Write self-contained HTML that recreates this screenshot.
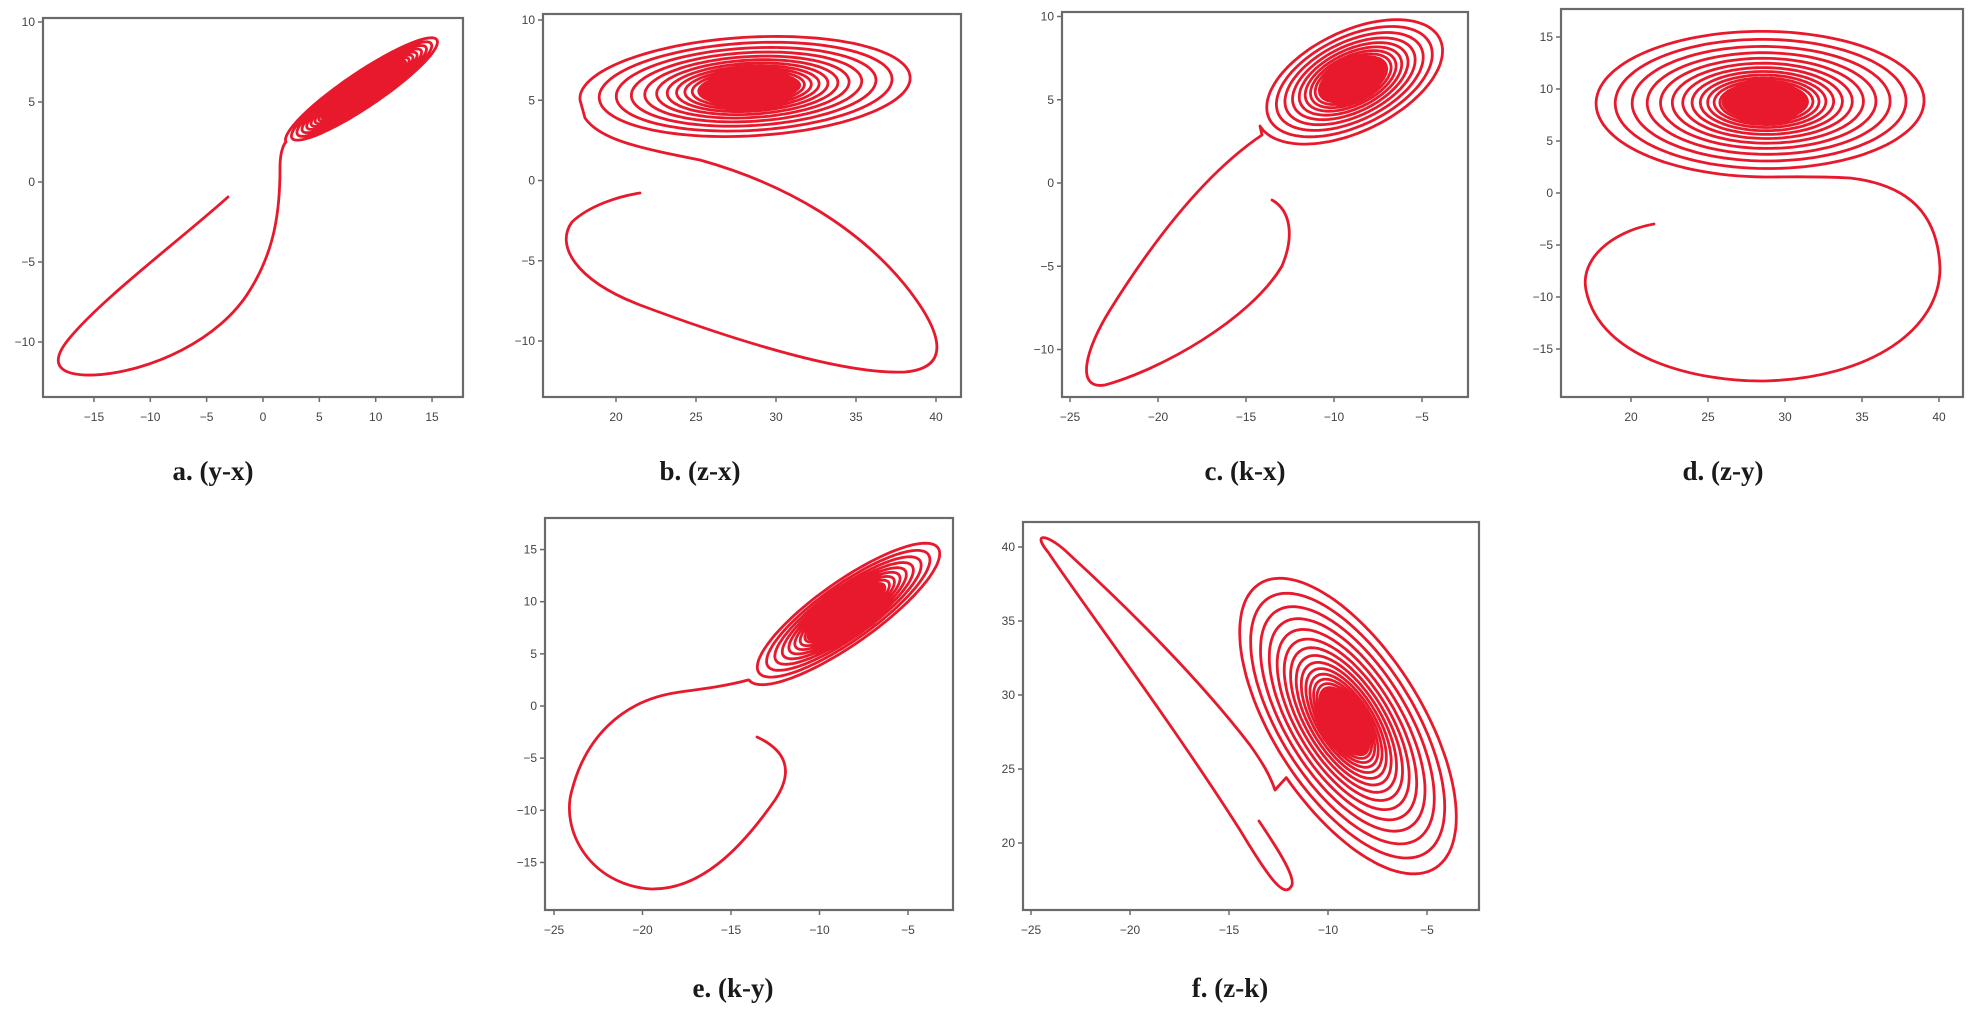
<!DOCTYPE html>
<html><head><meta charset="utf-8">
<style>
html,body{margin:0;padding:0;background:#fff;}
svg{display:block;}
.cap{font-family:"Liberation Serif",serif;font-weight:bold;font-size:27px;fill:#1a1a1a;}
.tk{font-family:"Liberation Sans",sans-serif;font-size:12px;fill:#444;}
</style></head>
<body>
<svg id="s" width="1972" height="1010" viewBox="0 0 1972 1010" xmlns="http://www.w3.org/2000/svg">
<g id="fills" fill="#ea1a2a" stroke="none"></g>
<g id="curves" fill="none" stroke="#e8192c" stroke-width="2.8" stroke-linejoin="round" stroke-linecap="round"></g>
<g id="axes" fill="none" stroke="#6a6a6a" stroke-width="2.2"></g>
<g id="labels"></g>
<text class="cap" x="213" y="480" text-anchor="middle">a. (y-x)</text>
<text class="cap" x="700" y="480" text-anchor="middle">b. (z-x)</text>
<text class="cap" x="1245" y="480" text-anchor="middle">c. (k-x)</text>
<text class="cap" x="1723" y="480" text-anchor="middle">d. (z-y)</text>
<text class="cap" x="733" y="997" text-anchor="middle">e. (k-y)</text>
<text class="cap" x="1230" y="997" text-anchor="middle">f. (z-k)</text>
</svg>
<script>
var NS="http://www.w3.org/2000/svg";
function el(p,t,a,txt){var e=document.createElementNS(NS,t);for(var k in a)e.setAttribute(k,a[k]);if(txt!==undefined)e.textContent=txt;p.appendChild(e);return e;}
var curves=document.getElementById('curves'),axes=document.getElementById('axes'),labels=document.getElementById('labels'),fills=document.getElementById('fills');
var P=[
 {b:[43,18,463,397],xt:[-15,-10,-5,0,5,10,15],xf:function(v){return 263+11.27*v},yt:[-10,-5,0,5,10],yf:function(v){return 182-16*v}},
 {b:[543,14,961,397],xt:[20,25,30,35,40],xf:function(v){return 616+16*(v-20)},yt:[-10,-5,0,5,10],yf:function(v){return 180.5-16.05*v}},
 {b:[1062,12,1468,397],xt:[-25,-20,-15,-10,-5],xf:function(v){return 1070+17.6*(v+25)},yt:[-10,-5,0,5,10],yf:function(v){return 183-16.65*v}},
 {b:[1561,9,1963,397],xt:[20,25,30,35,40],xf:function(v){return 1631+15.4*(v-20)},yt:[-15,-10,-5,0,5,10,15],yf:function(v){return 193-10.4*v}},
 {b:[545,518,953,910],xt:[-25,-20,-15,-10,-5],xf:function(v){return 554+17.7*(v+25)},yt:[-15,-10,-5,0,5,10,15],yf:function(v){return 706-10.43*v}},
 {b:[1023,522,1479,910],xt:[-25,-20,-15,-10,-5],xf:function(v){return 1031+19.8*(v+25)},yt:[20,25,30,35,40],yf:function(v){return 547-14.8*(v-40)}}
];
P.forEach(function(p){
 var b=p.b;
 el(axes,'rect',{x:b[0],y:b[1],width:b[2]-b[0],height:b[3]-b[1]});
 p.xt.forEach(function(v){var x=p.xf(v);el(axes,'line',{x1:x,y1:b[3],x2:x,y2:b[3]+5,'stroke-width':1.5});
   el(labels,'text',{x:x,y:b[3]+24,'text-anchor':'middle','class':'tk'},String(v).replace('-','\u2212'));});
 p.yt.forEach(function(v){var y=p.yf(v);el(axes,'line',{x1:b[0]-5,y1:y,x2:b[0],y2:y,'stroke-width':1.5});
   el(labels,'text',{x:b[0]-8,y:y+4,'text-anchor':'end','class':'tk'},String(v).replace('-','\u2212'));});
});
function spiral(c,A,B,th0,dir,lam,turns,fr){
 var pts=[],N=turns*120;
 for(var i=0;i<=N;i++){var t=i/120;var th=th0+dir*2*Math.PI*t;var r=Math.exp(-lam*t);
  pts.push([c[0]+r*(Math.cos(th)*A[0]+Math.sin(th)*B[0]),c[1]+r*(Math.cos(th)*A[1]+Math.sin(th)*B[1])]);}
 // filled dense core
 var d='';for(var j=0;j<=72;j++){var a=j/72*2*Math.PI;var x=c[0]+fr*(Math.cos(a)*A[0]+Math.sin(a)*B[0]),y=c[1]+fr*(Math.cos(a)*A[1]+Math.sin(a)*B[1]);d+=(j?' L':'M')+x.toFixed(1)+','+y.toFixed(1);}
 el(fills,'path',{d:d+'Z'});
 return pts;
}
function draw(trans,sp){
 var d=trans+' L'+sp[0][0].toFixed(1)+','+sp[0][1].toFixed(1);
 for(var i=1;i<sp.length;i++)d+=' L'+sp[i][0].toFixed(1)+','+sp[i][1].toFixed(1);
 el(curves,'path',{d:d});
}
// a
draw('M228,197 C180,240 100,300 68,340 C48,365 60,376 94,375 C150,372 220,340 250,290 C275,250 280,210 280,168 C280,155 282,148 285,143',
 spiral([363,90],[77,-52],[10,15],Math.PI,1,0.08,40,0.55));
// b
draw('M640,193 C620,196 590,205 572,222 C555,245 575,280 640,305 C720,335 840,375 905,372 C950,368 945,335 905,285 C860,230 790,185 700,160 C640,148 600,140 585,118',
 spiral([750,88],[170,-12],[8,52],Math.PI,1,0.12,32,0.3));
// c
draw('M1272,200 C1290,210 1295,235 1282,266 C1250,320 1160,370 1105,385 C1075,390 1085,350 1110,310 C1160,230 1210,170 1262,135',
 spiral([1352,80],[92,-46],[-26,-46],Math.PI,1,0.12,32,0.35));
// d
draw('M1654,224 C1610,232 1580,260 1586,290 C1600,360 1700,382 1765,381 C1870,378 1940,330 1940,268 C1938,215 1910,185 1850,178 C1810,176 1790,177 1765,177',
 spiral([1765,102],[174,0],[0,75],Math.PI/2,1,0.12,32,0.25));
// e
draw('M757,737 C785,750 795,770 775,800 C740,850 700,890 651,889 C590,885 560,830 572,790 C585,740 620,700 680,692 C710,688 730,685 748,680',
 spiral([846,612],[97,-68],[-18,-27],Math.PI,1,0.11,34,0.4));
// f
(function(){
 var sp=spiral([1345,722],[-35,-145],[110,55],-2.3,-1,0.11,34,0.22);
 draw('M1259,821 C1275,845 1295,875 1292,885 C1285,900 1270,880 1240,830 C1170,720 1080,600 1048,552 C1030,530 1050,535 1070,555 C1130,610 1200,680 1250,745 C1262,762 1270,775 1275,790',sp);
})();
</script>
</body></html>
